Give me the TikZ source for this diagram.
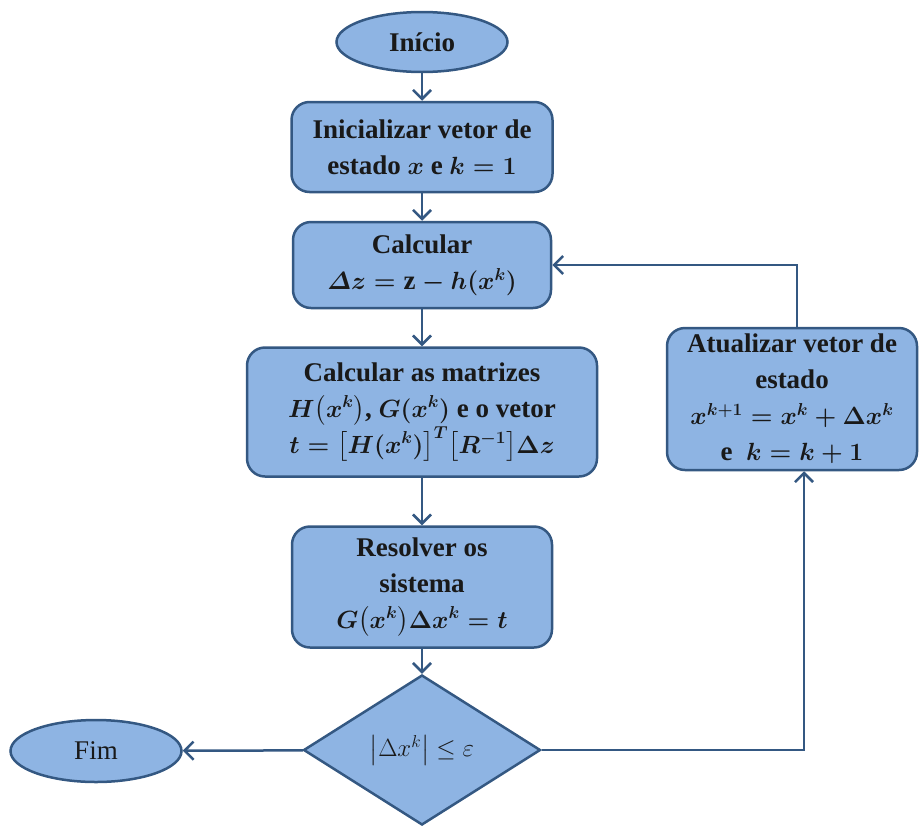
\documentclass[tikz,border=0pt]{standalone}
\usepackage{amsmath}
\usepackage{fontspec}
\setmainfont{Liberation Serif}
\usetikzlibrary{shapes.geometric,arrows.meta}
\definecolor{boxfill}{RGB}{142,180,227}
\definecolor{boxline}{RGB}{52,88,130}
\tikzset{
	base/.style={draw=boxline, fill=boxfill, line width=2.5pt, inner sep=0pt, align=center, text=black!90, font=\fontsize{27}{36}\selectfont\bfseries\boldmath},
	terminal/.style={base, ellipse},
	procbox/.style={base, rectangle, rounded corners=18pt},
	decision/.style={base, diamond, font=\fontsize{27}{36}\selectfont},
	flow/.style={draw=boxline, line width=2.5pt, -{Straight Barb[length=9pt,width=18pt,line width=2.5pt]}}
}

\begin{document}
\begin{tikzpicture}[x=1pt, y=-1pt]
			%%%%% START %%%%%
			\useasboundingbox (0, 0) rectangle (920, 825);
			
			\node[terminal, minimum width=171pt, minimum height=60pt] (inicio) at (422, 42) {Início};
			\node[procbox, minimum width=261pt, minimum height=90pt] (init) at (422, 147) {Inicializar vetor de\\estado $x$ e $k=1$};
			\node[procbox, minimum width=258pt, minimum height=86pt] (delta) at (422, 265) {Calcular\\$\varDelta z=\mathrm{z}-h(x^k)$};
			\node[procbox, minimum width=350pt, minimum height=129pt] (matriz) at (422, 412) {Calcular as matrizes\\$H\bigl(x^k\bigr)$, $G(x^k)$ e o vetor\\$t=\bigl[H(x^k)\bigr]^T\bigl[R^{-1}\bigr]\Delta z$};
			\node[procbox, minimum width=260pt, minimum height=121pt] (resolver) at (422, 587) {Resolver os\\sistema\\$G\bigl(x^k\bigr)\Delta x^k=t$};
			\node[decision, minimum width=237pt, minimum height=150pt] (teste) at (422, 750) {$\left|\Delta x^k\right|\leq\varepsilon$};
			\node[terminal, minimum width=171pt, minimum height=62pt, font=\fontsize{27}{36}\selectfont] (fim) at (96, 751) {Fim};
			\node[procbox, minimum width=250pt, minimum height=142pt] (atualizar) at (792, 399) {Atualizar vetor de\\estado\\$x^{k+1}=x^k+\Delta x^k$\\e\ \ $k=k+1$};
			
			\draw[flow] (inicio) -- (init);
			\draw[flow] (init) -- (delta);
			\draw[flow] (delta) -- (matriz);
			\draw[flow] (matriz) -- (resolver);
			\draw[flow] (resolver) -- (teste);
			\draw[flow] (teste) -- (fim);
			\draw[flow] (teste.east) -| ([xshift=12pt]atualizar.south);
			\draw[flow] ([xshift=5pt]atualizar.north) |- (delta.east);
			%%%%% END %%%%%
\end{tikzpicture}
\end{document}
